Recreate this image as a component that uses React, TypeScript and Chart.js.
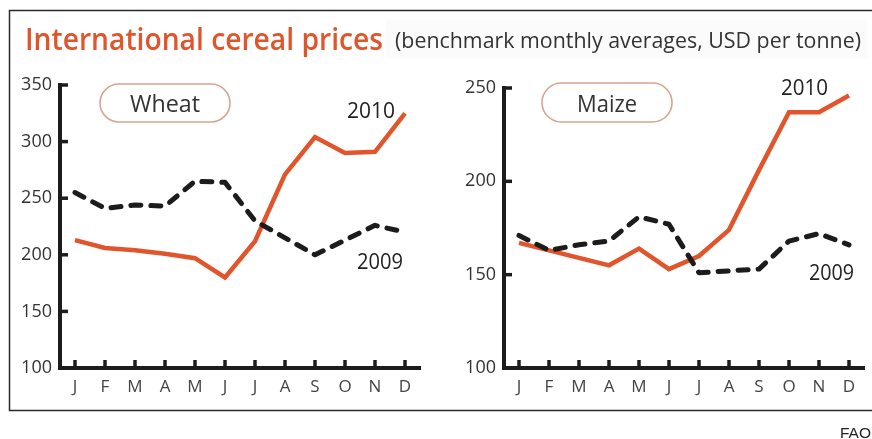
import React, { useEffect, useRef } from "react";
import { Chart, registerables } from "chart.js";

Chart.register(...registerables);

const months = ["J", "F", "M", "A", "M", "J", "J", "A", "S", "O", "N", "D"];
const wheat2010 = [213, 206, 204, 201, 197, 180, 212, 271, 304, 290, 291, 325];
const wheat2009 = [255, 241, 244, 243, 265, 264, 230, 215, 200, 213, 226, 220];
const maize2010 = [167, 163, 159, 155, 164, 153, 160, 174, 206, 237, 237, 246];
const maize2009 = [171, 163, 166, 168, 181, 177, 151, 152, 153, 168, 172, 166];
const wheatTicks = { min: 100, max: 350, step: 50 };
const maizeTicks = { min: 100, max: 250, step: 50 };

const ORANGE = "#e0552b";
const INK = "#1c1c1c";
const TEXT = "#333333";
const SANS = "'Open Sans', 'DejaVu Sans', sans-serif";

function fitText(ctx: CanvasRenderingContext2D, text: string, x: number, y: number, w: number, font: string, color: string) {
  ctx.save();
  ctx.font = font;
  ctx.fillStyle = color;
  ctx.textBaseline = "alphabetic";
  ctx.textAlign = "left";
  const m = ctx.measureText(text).width;
  ctx.translate(x, y);
  ctx.scale(w / m, 1);
  ctx.fillText(text, 0, 0);
  ctx.restore();
}

function pill(ctx: CanvasRenderingContext2D, x: number, y: number, w: number, h: number) {
  const r = h / 2;
  ctx.save();
  ctx.strokeStyle = "#d9a48e";
  ctx.lineWidth = 1.6;
  ctx.beginPath();
  ctx.moveTo(x + r, y);
  ctx.lineTo(x + w - r, y);
  ctx.arc(x + w - r, y + r, r, -Math.PI / 2, Math.PI / 2);
  ctx.lineTo(x + r, y + h);
  ctx.arc(x + r, y + r, r, Math.PI / 2, (3 * Math.PI) / 2);
  ctx.closePath();
  ctx.stroke();
  ctx.restore();
}

const tickMarks = {
  id: "tickMarks",
  afterDraw(chart: any) {
    const ctx = chart.ctx;
    const xs = chart.scales.x;
    const ys = chart.scales.y;
    const area = chart.chartArea;
    ctx.save();
    ctx.strokeStyle = INK;
    ctx.lineWidth = 3.5;
    xs.ticks.forEach((_: any, i: number) => {
      const px = Math.round(xs.getPixelForTick(i));
      ctx.beginPath();
      ctx.moveTo(px, area.bottom);
      ctx.lineTo(px, area.bottom - 8);
      ctx.stroke();
    });
    ys.ticks.forEach((_: any, i: number) => {
      const py = ys.getPixelForTick(i);
      ctx.beginPath();
      ctx.moveTo(area.left, py);
      ctx.lineTo(area.left + 8, py);
      ctx.stroke();
    });
    ctx.restore();
  },
};

function makeAnnot(kind: "wheat" | "maize") {
  return {
    id: "annot_" + kind,
    afterDraw(chart: any) {
      const ctx = chart.ctx as CanvasRenderingContext2D;
      if (kind === "wheat") {
        ctx.save();
        ctx.strokeStyle = "#2a2a2a";
        ctx.lineWidth = 1.5;
        ctx.strokeRect(9.5, 10.5, 880, 400);
        ctx.restore();
        ctx.save();
        ctx.fillStyle = "#fbfbfb";
        ctx.fillRect(386, 20, 481, 38);
        ctx.restore();
        fitText(ctx, "International cereal prices", 25, 50, 358, `600 30px ${SANS}`, ORANGE);
        fitText(ctx, "(benchmark monthly averages, USD per tonne)", 395, 48, 466, `400 21px ${SANS}`, TEXT);
        fitText(ctx, "FAO", 840, 438, 31, `400 15px 'Liberation Sans', Arial, sans-serif`, "#222");
        pill(ctx, 100, 84, 130, 38);
        fitText(ctx, "Wheat", 130, 112, 70, `400 23px ${SANS}`, TEXT);
        fitText(ctx, "2010", 347, 118, 48, `400 22px ${SANS}`, "#222");
        fitText(ctx, "2009", 357, 269, 46, `400 22px ${SANS}`, "#222");
      } else {
        pill(ctx, 542, 83, 130, 39);
        fitText(ctx, "Maize", 577, 112, 60, `400 23px ${SANS}`, TEXT);
        fitText(ctx, "2010", 781, 95, 47, `400 22px ${SANS}`, "#222");
        fitText(ctx, "2009", 809, 280, 45, `400 22px ${SANS}`, "#222");
      }
    },
  };
}

function makeConfig(
  d2010: number[],
  d2009: number[],
  t: { min: number; max: number; step: number },
  padding: { left: number; right: number; top: number; bottom: number },
  kind: "wheat" | "maize"
): any {
  return {
    type: "line",
    data: {
      labels: months,
      datasets: [
        {
          label: "2009",
          data: d2009,
          borderColor: INK,
          borderWidth: 5,
          borderDash: [10, 10],
          borderCapStyle: "round",
          borderJoinStyle: "round",
          pointRadius: 0,
          tension: 0,
          fill: false,
        },
        {
          label: "2010",
          data: d2010,
          borderColor: ORANGE,
          borderWidth: 4.5,
          borderJoinStyle: "miter",
          pointRadius: 0,
          tension: 0,
          fill: false,
        },
      ],
    },
    options: {
      responsive: false,
      animation: false,
      events: [],
      layout: { padding },
      plugins: { legend: { display: false }, tooltip: { enabled: false }, title: { display: false } },
      scales: {
        x: {
          type: "category",
          offset: true,
          grid: { display: false, drawTicks: false },
          border: { display: true, color: INK, width: 4 },
          ticks: { color: "#444", font: { family: SANS, size: 17 }, padding: 9, maxRotation: 0, autoSkip: false },
          afterFit: (s: any) => {
            s.height = 71;
          },
        },
        y: {
          type: "linear",
          min: t.min,
          max: t.max,
          grid: { display: false, drawTicks: false },
          border: { display: true, color: INK, width: 4 },
          ticks: { stepSize: t.step, color: TEXT, font: { family: SANS, size: 18 }, padding: 8 },
          afterFit: (s: any) => {
            s.width = 60;
          },
        },
      },
    },
    plugins: [tickMarks, makeAnnot(kind)],
  };
}

export default function App() {
  const leftRef = useRef<HTMLCanvasElement>(null);
  const rightRef = useRef<HTMLCanvasElement>(null);

  useEffect(() => {
    const c1 = new Chart(
      leftRef.current!,
      makeConfig(wheat2010, wheat2009, wheatTicks, { left: 0, right: 452, top: 85, bottom: 0 }, "wheat")
    );
    const c2 = new Chart(
      rightRef.current!,
      makeConfig(maize2010, maize2009, maizeTicks, { left: 444, right: 8, top: 88, bottom: 0 }, "maize")
    );
    return () => {
      c1.destroy();
      c2.destroy();
    };
  }, []);

  const cs: React.CSSProperties = { position: "absolute", left: 0, top: 0, width: 872, height: 439 };
  return (
    <div style={{ position: "absolute", left: 0, top: 0, width: 872, height: 439, background: "#fff", overflow: "hidden" }}>
      <canvas ref={leftRef} width={872} height={439} style={cs} />
      <canvas ref={rightRef} width={872} height={439} style={cs} />
    </div>
  );
}
